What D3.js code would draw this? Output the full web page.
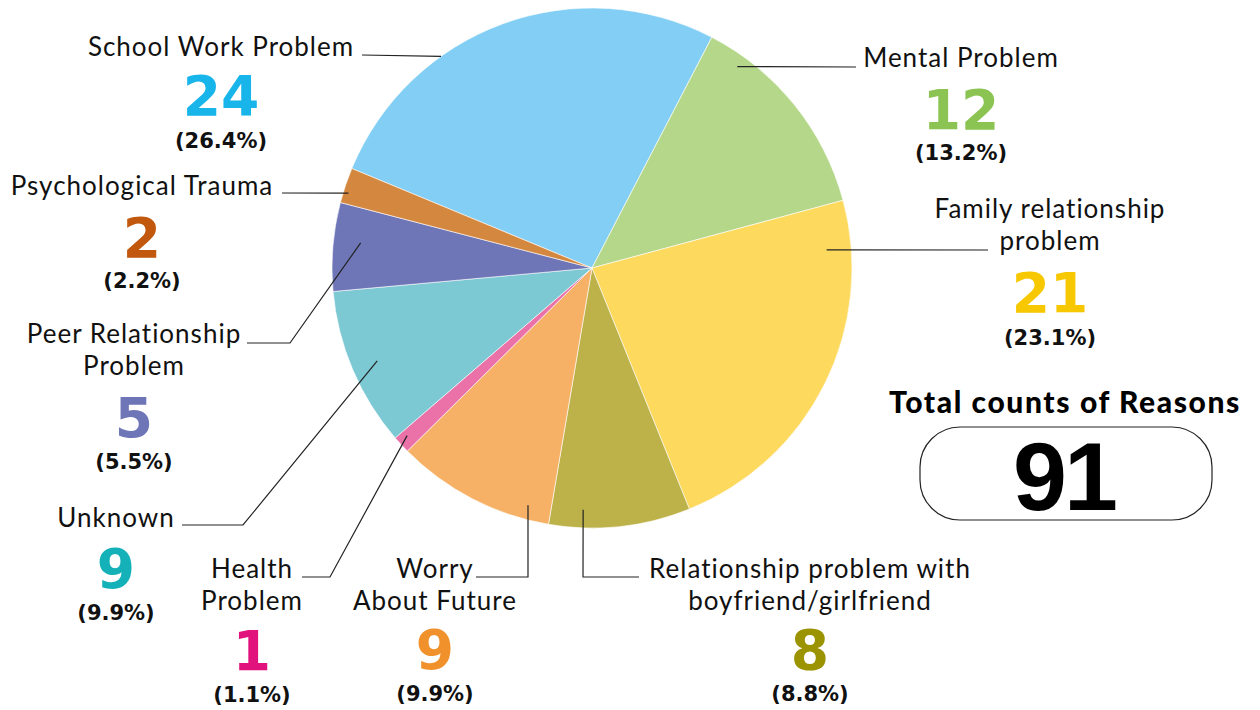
<!DOCTYPE html>
<html>
<head>
<meta charset="utf-8">
<script src="https://cdn.jsdelivr.net/npm/d3@7"></script>
<style>
  body { margin: 0; background: #fff; }
  svg { display: block; }
</style>
</head>
<body>
<svg id="chart" width="1260" height="710"></svg>
<script>
// data
const reasons = ["School Work Problem", "Mental Problem", "Family relationship problem",
  "Relationship problem with boyfriend/girlfriend", "Worry About Future", "Health Problem",
  "Unknown", "Peer Relationship Problem", "Psychological Trauma"];
const counts = [24, 12, 21, 8, 9, 1, 9, 5, 2];
const labelLines = [["School Work Problem"], ["Mental Problem"], ["Family relationship", "problem"],
  ["Relationship problem with", "boyfriend/girlfriend"], ["Worry", "About Future"], ["Health", "Problem"],
  ["Unknown"], ["Peer Relationship", "Problem"], ["Psychological Trauma"]];
const sliceColors = ["#82cef4", "#b5d78a", "#fdd95d", "#bdb24a", "#f6b166", "#ea72a8",
  "#7cc8d3", "#6e76b8", "#d4883f"];
const numberColors = ["#18b5ea", "#8cc454", "#f7c800", "#9b9300", "#f0912b", "#e2127c",
  "#14b1b8", "#6e76b8", "#c1580e"];
const totalTitle = "Total counts of Reasons";

// layout of the annotations (text centre, baselines, leader elbow, leader tip in polar)
const layout = [
  { x: 221, y: 56, num: 115, pct: 148, lead: [[362, 55], [362, 55]], tip: [-35.5, 1.0] },
  { x: 961, y: 67, num: 129, pct: 160, lead: [[856, 67], [856, 67]], tip: [35.8, 0.955] },
  { x: 1050, y: 218, num: 312, pct: 345, lead: [[988, 250], [988, 250]], tip: [85.6, 0.905] },
  { x: 810, y: 578, num: 669, pct: 701, lead: [[639, 577], [583, 577]], tip: [182.1, 0.93] },
  { x: 435, y: 578, num: 669, pct: 701, lead: [[476, 577], [528, 577]], tip: [195.1, 0.945] },
  { x: 252, y: 578, num: 670, pct: 702, lead: [[302, 577], [330, 577]], tip: [227.8, 0.96] },
  { x: 116, y: 527, num: 588, pct: 620, lead: [[182, 525], [243, 525]], tip: [246.6, 0.9] },
  { x: 134, y: 343, num: 437, pct: 469, lead: [[247, 343], [290, 343]], tip: [276.2, 0.895] },
  { x: 142, y: 195, num: 257, pct: 288, lead: [[282, 193], [282, 193]], tip: [287.1, 0.98] }
];

const total = d3.sum(counts);
const cx = 592, cy = 268, radius = 260;
const startDeg = -67.5;

const svg = d3.select("#chart");

const pie = d3.pie()
  .sort(null)
  .value(d => d)
  .startAngle(startDeg * Math.PI / 180)
  .endAngle(startDeg * Math.PI / 180 + 2 * Math.PI);

const arc = d3.arc().innerRadius(0).outerRadius(radius);

const gPie = svg.append("g").attr("transform", `translate(${cx},${cy})`);
gPie.selectAll("path")
  .data(pie(counts))
  .enter()
  .append("path")
  .attr("d", arc)
  .attr("fill", (d, i) => sliceColors[i])
  .attr("stroke", "#ffffff")
  .attr("stroke-width", 0.6);

// leaders
function polar(deg, frac) {
  const a = deg * Math.PI / 180;
  return [cx + Math.sin(a) * radius * frac, cy - Math.cos(a) * radius * frac];
}
const line = d3.line();
svg.append("g").selectAll("path")
  .data(layout)
  .enter()
  .append("path")
  .attr("d", d => line([d.lead[0], d.lead[1], polar(d.tip[0], d.tip[1])]))
  .attr("fill", "none")
  .attr("stroke", "#222")
  .attr("stroke-width", 1.2);

// labels
const fmt = d3.format(".1%");
const gLab = svg.append("g");
reasons.forEach(function (r, i) {
  const L = layout[i];
  const t = gLab.append("text")
    .attr("x", L.x)
    .attr("y", L.y)
    .attr("text-anchor", "middle")
    .attr("font-family", "Lato, sans-serif")
    .attr("font-size", "26px")
    .attr("letter-spacing", "1px")
    .attr("fill", "#111");
  labelLines[i].forEach(function (s, j) {
    t.append("tspan").attr("x", L.x).attr("dy", j === 0 ? 0 : 32).text(s);
  });
  gLab.append("text")
    .attr("x", L.x)
    .attr("y", L.num)
    .attr("text-anchor", "middle")
    .attr("font-family", "'DejaVu Sans', sans-serif")
    .attr("font-weight", "bold")
    .attr("font-size", "55px")
    .attr("fill", numberColors[i])
    .text(counts[i]);
  gLab.append("text")
    .attr("x", L.x)
    .attr("y", L.pct)
    .attr("text-anchor", "middle")
    .attr("font-family", "'DejaVu Sans', sans-serif")
    .attr("font-weight", "bold")
    .attr("font-size", "21px")
    .attr("fill", "#111")
    .text("(" + fmt(counts[i] / total) + ")");
});

// total box
svg.append("text")
  .attr("x", 1065)
  .attr("y", 413)
  .attr("text-anchor", "middle")
  .attr("font-family", "Lato, sans-serif")
  .attr("font-weight", 900)
  .attr("font-size", "30px")
  .attr("letter-spacing", "1.6px")
  .attr("fill", "#000")
  .text(totalTitle);
svg.append("rect")
  .attr("x", 920)
  .attr("y", 427)
  .attr("width", 292)
  .attr("height", 93)
  .attr("rx", 40)
  .attr("fill", "none")
  .attr("stroke", "#222")
  .attr("stroke-width", 1.2);
svg.append("text")
  .attr("x", 1064)
  .attr("y", 510)
  .attr("text-anchor", "middle")
  .attr("font-family", "'Liberation Sans', sans-serif")
  .attr("font-weight", "bold")
  .attr("font-size", "97px")
  .attr("letter-spacing", "-3px")
  .attr("fill", "#000")
  .text(total);
</script>
</body>
</html>
